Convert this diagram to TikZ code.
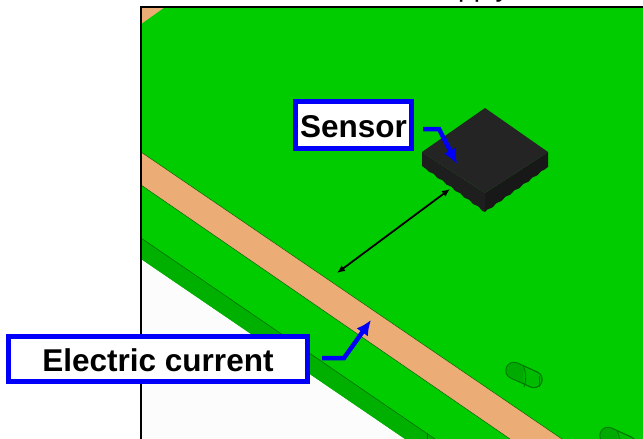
\documentclass[tikz,border=0pt]{standalone}
\usepackage{fontspec}
\setmainfont{Liberation Sans}
\usetikzlibrary{arrows.meta,decorations.pathmorphing}
\definecolor{boardgreen}{RGB}{0,204,0}
\definecolor{sidegreen}{RGB}{0,176,0}
\definecolor{holegreen}{RGB}{0,170,0}
\definecolor{holemid}{RGB}{0,188,0}
\definecolor{holeedge}{RGB}{0,120,0}
\definecolor{traceorange}{RGB}{236,172,118}
\definecolor{labelblue}{RGB}{0,0,250}
\definecolor{chiptop}{RGB}{36,36,36}
\definecolor{chipleft}{RGB}{30,30,30}
\definecolor{chipright}{RGB}{24,24,24}
\tikzset{
	labelbox/.style={draw=labelblue, line width=5pt, fill=white, font=\fontsize{31.5}{32}\selectfont\bfseries, inner sep=0pt, anchor=center, text height=25pt, text depth=0pt},
	bluearrow/.style={draw=labelblue, line width=4.5pt, -{Latex[length=15pt,width=14pt]}},
	gaparrow/.style={draw=black, line width=1.8pt, {Latex[length=8pt,width=7pt]}-{Latex[length=8pt,width=7pt]}},
	edgeline/.style={draw=black!60!green, line width=0.5pt},
	slotline/.style={line cap=round, line width=#1}
}
\begin{document}
\begin{tikzpicture}[x=1pt,y=-1pt]
\useasboundingbox (0,0) rectangle (643,439);
\begin{scope}
\clip (0,0) rectangle (643,439);
\node[anchor=base west, inner sep=0pt, font=\fontsize{28}{28}\selectfont] (supplytext) at (458,-3) {pply};
\end{scope}
% board
\begin{scope}
\clip (141,7) rectangle (643,439);
\fill[boardgreen] (141,7) rectangle (643,439);
\fill[gray!2] (141,259) -- (405,439) -- (141,439) -- cycle;
\fill[sidegreen] (141,238) -- (435,439) -- (405,439) -- (141,259) -- cycle;
\draw[edgeline] (141,238) -- (435,439);
\draw[edgeline] (427,433) -- (427,439);
% copper
\fill[traceorange] (141,7) -- (165,7) -- (141,24) -- cycle;
\fill[traceorange] (141,152) -- (562,439) -- (510,439) -- (141,185) -- cycle;
\draw[edgeline] (141,152) -- (562,439);
\draw[edgeline] (141,185) -- (510,439);
% holes
\foreach \dx/\dy in {0/0,94/65} {
\begin{scope}[shift={(\dx,\dy)}]
\draw[slotline=17.5pt, holeedge] (514,370.5) -- (534,379.5);
\draw[slotline=15pt, holemid] (514,370.5) -- (534,379.5);
\begin{scope}
\clip (500,355) rectangle (523.5,395);
\draw[slotline=15pt, holegreen] (514,370.5) -- (534,379.5);
\end{scope}
\draw[holeedge, line width=0.9pt] (523,365) .. controls (526,372) and (527,380) .. (524,387);
\draw[holeedge, line width=0.9pt] (539,376) -- (539,387);
\end{scope}
}
\end{scope}
% sensor
\fill[chipleft] (422,152) -- (485,193) -- (485,212) decorate[decoration={snake,amplitude=0.6pt,segment length=11pt}]{-- (422,166)} -- cycle;
\fill[chipright] (548,152) -- (485,193) -- (485,212) decorate[decoration={snake,amplitude=0.6pt,segment length=11pt}]{-- (548,167)} -- cycle;
\fill[chiptop] (422,152) -- (485,108) -- (548,152) -- (485,193) -- cycle;
% frame
\draw[line width=2pt] (141,439) -- (141,7) -- (643,7);
% labels
\node[labelbox, minimum width=299pt, minimum height=45pt] (currentbox) at (158,359) {Electric current};
\node[labelbox, minimum width=116pt, minimum height=47pt] (sensorbox) at (353.5,125) {Sensor};
% arrows
\coordinate (gapa) at (337,273);
\coordinate (gapb) at (450,189);
\draw[gaparrow] (gapa) -- (gapb);
\coordinate (sensorstart) at (423,129);
\coordinate (sensorbend) at (439,129);
\coordinate (sensortip) at (457,164);
\draw[bluearrow] (sensorstart) -- (sensorbend) -- (sensortip);
\coordinate (currentstart) at (322,358);
\coordinate (currentbend) at (344,358);
\coordinate (currenttip) at (371,320);
\draw[bluearrow] (currentstart) -- (currentbend) -- (currenttip);
\end{tikzpicture}
\end{document}
